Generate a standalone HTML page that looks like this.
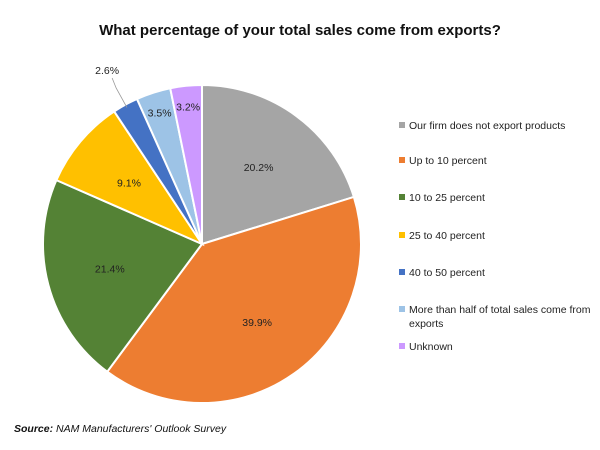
<!DOCTYPE html>
<html><head><meta charset="utf-8"><style>
body{margin:0;background:#fff;font-family:"Liberation Sans",sans-serif}
#wrap{position:relative;width:600px;height:450px;overflow:hidden}
.leg{position:absolute;left:399px;font-size:10.5px;color:#222;line-height:14px}
.sw{position:absolute;left:0;top:3px;width:6px;height:6px}
.leg span.t{position:absolute;left:10px;top:0;width:190px}
</style></head><body>
<div id="wrap">
<div style="position:absolute;top:22px;left:0;width:600px;text-align:center;font-weight:bold;font-size:15px;color:#111">What percentage of your total sales come from exports?</div>
<svg id="pie" width="600" height="450" style="position:absolute;left:0;top:0"></svg>
<div id="legend"></div>
<div style="position:absolute;left:14px;top:423px;font-size:10.5px;font-style:italic;color:#111"><b>Source:</b> NAM Manufacturers' Outlook Survey</div>
</div>
<script>
const categories=["Our firm does not export products","Up to 10 percent","10 to 25 percent","25 to 40 percent","40 to 50 percent","More than half of total sales come from exports","Unknown"];
const values=[20.2,39.9,21.4,9.1,2.6,3.5,3.2];
const labels=["20.2%","39.9%","21.4%","9.1%","2.6%","3.5%","3.2%"];
const colors=["#a5a5a5","#ed7d31","#548235","#ffc000","#4472c4","#9dc3e6","#cc99ff"];
const NS="http://www.w3.org/2000/svg";
const svg=document.getElementById('pie');
const cx=202,cy=244,R=159;
const total=values.reduce((a,b)=>a+b,0);
function pt(a,r){return [cx+r*Math.sin(a),cy-r*Math.cos(a)];}
let acc=0;
values.forEach((v,i)=>{
  const a0=acc/total*2*Math.PI;acc+=v;const a1=acc/total*2*Math.PI;
  const p0=pt(a0,R),p1=pt(a1,R);
  const path=document.createElementNS(NS,'path');
  path.setAttribute('d',`M${cx},${cy}L${p0[0]},${p0[1]}A${R},${R} 0 ${a1-a0>Math.PI?1:0} 1 ${p1[0]},${p1[1]}Z`);
  path.setAttribute('fill',colors[i]);path.setAttribute('stroke','#fff');path.setAttribute('stroke-width','2');
  
  
  svg.appendChild(path);
  const am=(a0+a1)/2;
  let lp;
  const t=document.createElementNS(NS,'text');
  if(v<3){
    const e=pt(am,R*0.98),m=pt(am,R*1.12);
    const ln=document.createElementNS(NS,'polyline');
    ln.setAttribute('points',`${e[0]},${e[1]} ${m[0]},${m[1]} ${m[0]-4},${m[1]-10}`);
    ln.setAttribute('fill','none');ln.setAttribute('stroke','#999');ln.setAttribute('stroke-width','0.8');
    
    
    svg.appendChild(ln);
    lp=[m[0]-9,m[1]-18];
  } else lp=pt(am,v<5?R*0.87:R*0.6);
  t.setAttribute('x',lp[0]);t.setAttribute('y',lp[1]+4);t.setAttribute('text-anchor','middle');
  t.setAttribute('font-size','10.5');t.setAttribute('fill','#222');t.setAttribute('font-family','Liberation Sans, sans-serif');
  t.textContent=labels[i];
  
  
  svg.appendChild(t);
});
const ys=[119,154,191,229,266,303,340];
const leg=document.getElementById('legend');
categories.forEach((c,i)=>{
  const d=document.createElement('div');d.className='leg';d.style.top=ys[i]+'px';
  
  
  d.innerHTML=`<span class="sw" style="background:${colors[i]}"></span><span class="t">${c}</span>`;
  leg.appendChild(d);
});
</script>
</body></html>
